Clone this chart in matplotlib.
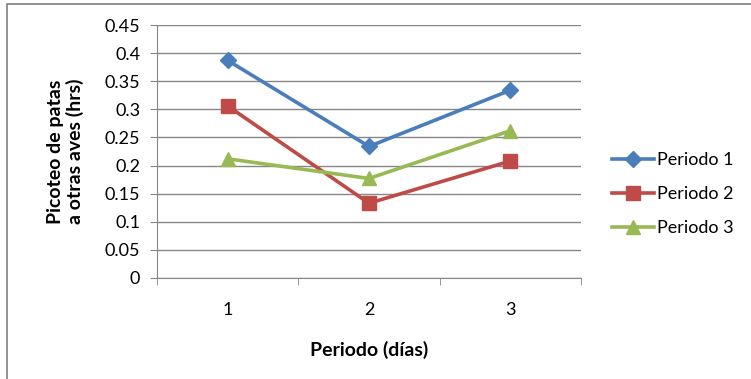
import matplotlib.pyplot as plt
from matplotlib.patches import Rectangle

plt.rcParams['font.family'] = ['Lato', 'DejaVu Sans']

dias = [1, 2, 3]
periodo1 = [0.387, 0.234, 0.334]
periodo2 = [0.306, 0.133, 0.208]
periodo3 = [0.212, 0.177, 0.262]
yticks = [0, 0.05, 0.1, 0.15, 0.2, 0.25, 0.3, 0.35, 0.4, 0.45]

fig = plt.figure(figsize=(7.51, 3.79), dpi=100)
ax = fig.add_axes([157 / 751, 1 - 278 / 379, 424 / 751, 253 / 379])

# marco del gráfico
fig.patches.append(Rectangle((7 / 751, -0.1), 1.1, 1 - 4 / 379 + 0.1,
                             transform=fig.transFigure, fill=False,
                             edgecolor='#7f7f7f', linewidth=1.2))

ax.plot(dias, periodo1, color='#4A7EBB', lw=2.6, marker='D', ms=8, label='Periodo 1')
ax.plot(dias, periodo2, color='#BE4B48', lw=2.6, marker='s', ms=10, label='Periodo 2')
ax.plot(dias, periodo3, color='#98B954', lw=2.6, marker='^', ms=10, label='Periodo 3')

ax.set_xlim(0.5, 3.5)
ax.set_ylim(0, 0.45)
ax.set_yticks(yticks)
ax.set_yticklabels(['0' if v == 0 else f'{v:g}' for v in yticks])
ax.set_xticks(dias)
ax.set_xticks([0.5, 1.5, 2.5, 3.5], minor=True)
ax.tick_params(axis='x', which='major', length=0, pad=17, labelsize=13)
ax.tick_params(axis='x', which='minor', length=5, color='#868686')
ax.tick_params(axis='y', length=5, color='#868686', labelsize=13, pad=7)
ax.grid(axis='y', color='#868686', lw=1)
ax.set_axisbelow(True)
for s in ['top', 'right']:
    ax.spines[s].set_visible(False)
for s in ['left', 'bottom']:
    ax.spines[s].set_color('#868686')

ax.set_xlabel('Periodo (días)', fontsize=14, fontweight='bold', labelpad=17)
ax.set_ylabel('Picoteo de patas\na otras aves (hrs)', fontsize=14,
              fontweight='bold', labelpad=15, linespacing=1.1)

ax.legend(loc='center left', bbox_to_anchor=(596 / 751, 1 - 194 / 379),
          bbox_transform=fig.transFigure, frameon=False,
          fontsize=13, handlelength=2.3, labelspacing=1.0, handletextpad=0.2)

fig.savefig('out.png', dpi=100)
